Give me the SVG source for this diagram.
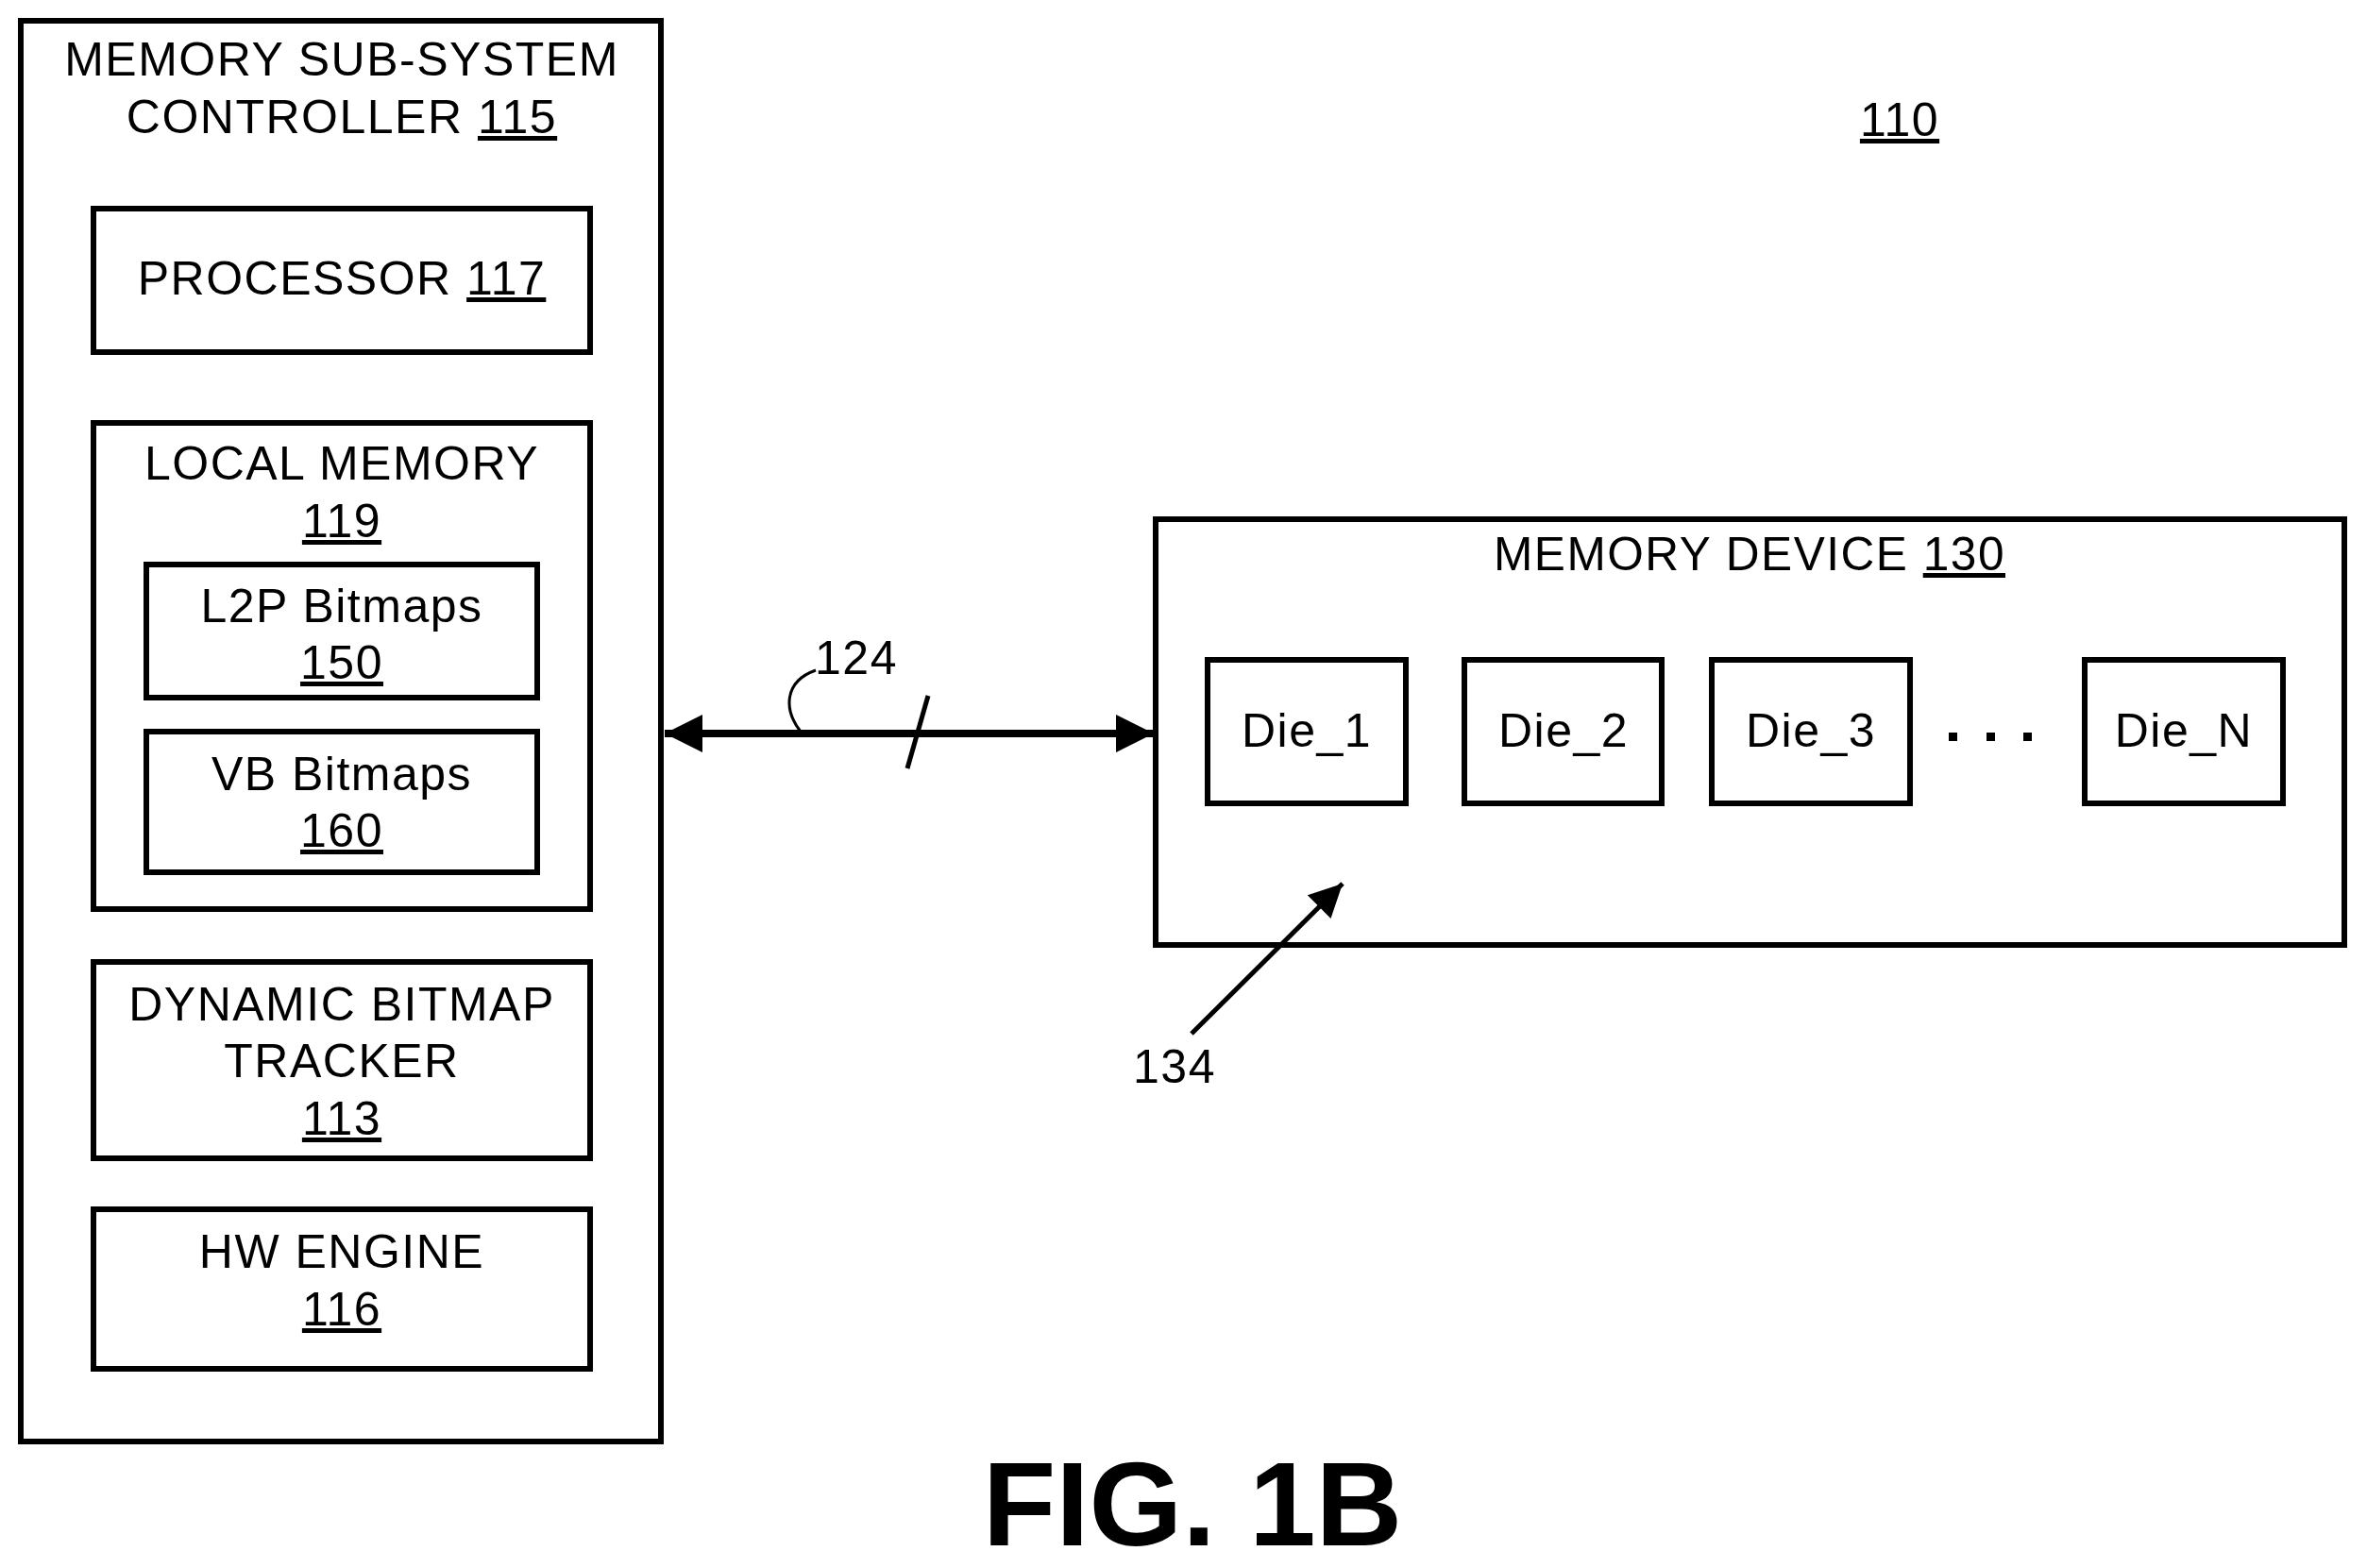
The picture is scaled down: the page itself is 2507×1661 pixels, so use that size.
<svg xmlns="http://www.w3.org/2000/svg" width="2507" height="1661" viewBox="0 0 2507 1661">
<style>
.b{fill:#fff;stroke:#000;stroke-width:6}
.t{font-family:"Liberation Sans",Arial,sans-serif;font-size:50px;letter-spacing:1.5px;fill:#000;text-anchor:middle}
.u{text-decoration:underline}
.c{stroke:#000;fill:none}
</style>
<defs>
<marker id="ah" viewBox="0 0 10 10" refX="10" refY="5" markerWidth="7" markerHeight="5" markerUnits="strokeWidth" orient="auto-start-reverse"><path d="M0,0L10,5L0,10z" fill="#000"/></marker>
<marker id="ah2" viewBox="0 0 10 10" refX="10" refY="5" markerWidth="10" markerHeight="7" markerUnits="strokeWidth" orient="auto"><path d="M0,0L10,5L0,10z" fill="#000"/></marker>
</defs>
<rect width="2507" height="1661" fill="#fff"/>
<g id="controller"><rect class="b" x="22" y="22" width="678" height="1505"/>
<text class="t" x="362" y="80">MEMORY SUB-SYSTEM</text>
<text class="t" x="362" y="141">CONTROLLER <tspan class="u">115</tspan></text></g>
<g id="processor"><rect class="b" x="99" y="221" width="526" height="152"/>
<text class="t" x="362" y="312">PROCESSOR <tspan class="u">117</tspan></text></g>
<g id="localmem"><rect class="b" x="99" y="448" width="526" height="515"/>
<text class="t" x="362" y="508">LOCAL MEMORY</text>
<text class="t u" x="362" y="569">119</text></g>
<g id="l2p"><rect class="b" x="155" y="598" width="414" height="141"/>
<text class="t" x="362" y="659">L2P Bitmaps</text>
<text class="t u" x="362" y="719">150</text></g>
<g id="vb"><rect class="b" x="155" y="775" width="414" height="149"/>
<text class="t" x="362" y="837">VB Bitmaps</text>
<text class="t u" x="362" y="897">160</text></g>
<g id="tracker"><rect class="b" x="99" y="1019" width="526" height="208"/>
<text class="t" x="362" y="1081">DYNAMIC BITMAP</text>
<text class="t" x="362" y="1141">TRACKER</text>
<text class="t u" x="362" y="1202">113</text></g>
<g id="hw"><rect class="b" x="99" y="1281" width="526" height="169"/>
<text class="t" x="362" y="1343">HW ENGINE</text>
<text class="t u" x="362" y="1404">116</text></g>
<g id="label110"><text class="t u" x="2012" y="144">110</text></g>
<g id="device"><rect class="b" x="1224" y="550" width="1259" height="451"/>
<text class="t" x="1853" y="604" textLength="542" lengthAdjust="spacingAndGlyphs">MEMORY DEVICE <tspan class="u">130</tspan></text></g>
<g id="die1"><rect class="b" x="1279" y="699" width="210" height="152"/><text class="t" x="1384" y="791">Die_1</text></g>
<g id="die2"><rect class="b" x="1551" y="699" width="209" height="152"/><text class="t" x="1656" y="791">Die_2</text></g>
<g id="die3"><rect class="b" x="1813" y="699" width="210" height="152"/><text class="t" x="1918" y="791">Die_3</text></g>
<g id="dieN"><rect class="b" x="2208" y="699" width="210" height="152"/><text class="t" x="2313" y="791">Die_N</text></g>
<g id="dots" fill="#000"><rect x="2064" y="776" width="9" height="9"/><rect x="2104" y="776" width="9" height="9"/><rect x="2143" y="776" width="9" height="9"/></g>
<g id="connectors">
<line class="c" x1="704" y1="777" x2="1222" y2="777" stroke-width="8" marker-start="url(#ah)" marker-end="url(#ah)"/>
<line class="c" x1="961" y1="814" x2="983" y2="737" stroke-width="5"/>
<path class="c" d="M848,775 C830,752 830,722 864,710" stroke-width="3"/>
<line class="c" x1="1262" y1="1095" x2="1422" y2="936" stroke-width="5" marker-end="url(#ah2)"/>
</g>
<g id="labels">
<text class="t" x="907" y="714">124</text>
<text class="t" x="1244" y="1147">134</text>
<text class="t" x="1263" y="1637" style="font-size:127px;font-weight:bold;letter-spacing:0">FIG. 1B</text>
</g>
</svg>
